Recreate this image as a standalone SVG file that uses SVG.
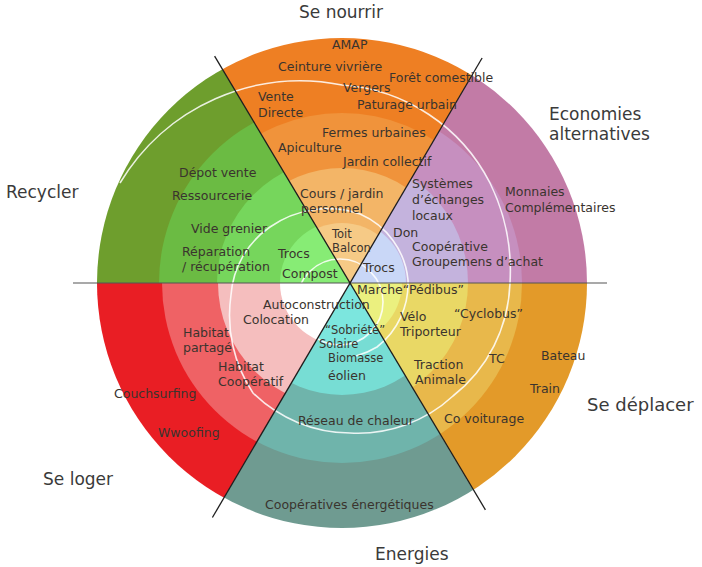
<svg xmlns="http://www.w3.org/2000/svg" width="702" height="567" viewBox="0 0 702 567">
<style>
.t{font-family:"DejaVu Sans","Liberation Sans",sans-serif;font-size:12.5px;fill:#3a342e}
.s{font-size:11.5px}
.h{font-family:"DejaVu Sans","Liberation Sans",sans-serif;font-size:17px;fill:#3a3a3a}
.arc{fill:none;stroke:#ffffff;stroke-width:1.6;stroke-opacity:0.85}
.div{stroke:#1e1e1e;stroke-width:1.3;fill:none}
.hz{stroke:#555555;stroke-width:1.2;fill:none}
</style>
<defs>
<clipPath id="cTop"><polygon points="350,283 144.8,-60.6 552.4,-61.8"/></clipPath>
<clipPath id="cUR"><polygon points="350,283 552.4,-61.8 750,-61.8 750,283"/></clipPath>
<clipPath id="cLR"><polygon points="350,283 750,283 750,626.6 554.2,626.6"/></clipPath>
<clipPath id="cBot"><polygon points="350,283 554.2,626.6 147.6,627.8"/></clipPath>
<clipPath id="cLL"><polygon points="350,283 147.6,627.8 -50,627.8 -50,283"/></clipPath>
<clipPath id="cUL"><polygon points="350,283 -50,283 -50,-60.6 144.8,-60.6"/></clipPath>
</defs>
<rect width="702" height="567" fill="#ffffff"/>
<g id="sectors">
<g id="se-nourrir" clip-path="url(#cTop)">
<circle cx="342" cy="283" r="245" fill="#ee7f23"/>
<circle cx="342" cy="283" r="170" fill="#f0933b"/>
<circle cx="342" cy="283" r="115" fill="#f3b567"/>
<circle cx="342" cy="283" r="60" fill="#f6ca86"/>
</g>
<g id="economies-alternatives" clip-path="url(#cUR)">
<circle cx="342" cy="283" r="245" fill="#c27ba6"/>
<circle cx="342" cy="283" r="180" fill="#c68fbf"/>
<circle cx="342" cy="283" r="126" fill="#c4b3dd"/>
<circle cx="342" cy="283" r="64" fill="#c9d7f7"/>
</g>
<g id="se-deplacer" clip-path="url(#cLR)">
<circle cx="342" cy="283" r="245" fill="#e39a29"/>
<circle cx="342" cy="283" r="180" fill="#e8b84b"/>
<circle cx="342" cy="283" r="126" fill="#e9d865"/>
<circle cx="342" cy="283" r="60" fill="#ebf07f"/>
</g>
<g id="energies" clip-path="url(#cBot)">
<circle cx="342" cy="283" r="245" fill="#6f9b91"/>
<circle cx="342" cy="283" r="180" fill="#6fb4ab"/>
<circle cx="342" cy="283" r="112" fill="#77ddd4"/>
<circle cx="342" cy="283" r="60" fill="#7ce6de"/>
</g>
<g id="se-loger" clip-path="url(#cLL)">
<circle cx="342" cy="283" r="245" fill="#e91e24"/>
<circle cx="342" cy="283" r="180" fill="#ef6265"/>
<circle cx="342" cy="283" r="124" fill="#f5bebe"/>
<circle cx="342" cy="283" r="62" fill="#ffffff"/>
</g>
<g id="recycler" clip-path="url(#cUL)">
<circle cx="342" cy="283" r="245" fill="#6e9e2d"/>
<circle cx="342" cy="283" r="183" fill="#6bbb43"/>
<circle cx="342" cy="283" r="125" fill="#76d65c"/>
<circle cx="342" cy="283" r="62" fill="#87ec75"/>
</g>
</g>
<g id="spiral">
<path class="arc" d="M120,183 A210,210 0 0,1 342,85 A180,180 0 0,1 490,183 A200,200 0 0,1 510,283 A150,150 0 0,1 453,396 A140,140 0 0,1 350,433 A140,140 0 0,1 253,393 A140,140 0 0,1 231,295 A90,90 0 0,1 270,227 A100,100 0 0,1 360,214 A80,80 0 0,1 408,280 A80,80 0 0,1 377,347 A80,80 0 0,1 356,356"/>
<circle class="arc" cx="340" cy="302" r="43"/>
</g>
<g id="connectors">
<line class="hz" x1="73" y1="283" x2="607" y2="283"/>
<line class="div" x1="214.6" y1="56.2" x2="485.4" y2="509.8"/>
<line class="div" x1="482.1" y1="58" x2="212.4" y2="517.5"/>
</g>
<g id="labels">
<g id="se-nourrir-labels">
<text class="h" x="299" y="18">Se nourrir</text>
<text class="t" x="332" y="49">AMAP</text>
<text class="t" x="278" y="71">Ceinture vivrière</text>
<text class="t" x="389" y="82">Forêt comestible</text>
<text class="t" x="343" y="92">Vergers</text>
<text class="t" x="357" y="109">Paturage urbain</text>
<text class="t" x="258" y="101">Vente</text>
<text class="t" x="258" y="117">Directe</text>
<text class="t" x="322" y="137">Fermes urbaines</text>
<text class="t" x="278" y="152">Apiculture</text>
<text class="t" x="343" y="166">Jardin collectif</text>
<text class="t" x="300" y="198">Cours / jardin</text>
<text class="t" x="301" y="213">personnel</text>
<text class="t s" x="332" y="238">Toit</text>
<text class="t s" x="332" y="252">Balcon</text>
</g>
<g id="economies-alternatives-labels">
<text class="h" x="549" y="120">Economies</text>
<text class="h" x="549" y="140">alternatives</text>
<text class="t" x="412" y="188">Systèmes</text>
<text class="t" x="412" y="204">d’échanges</text>
<text class="t" x="412" y="220">locaux</text>
<text class="t" x="393" y="237">Don</text>
<text class="t" x="412" y="251">Coopérative</text>
<text class="t" x="412" y="266">Groupemens d’achat</text>
<text class="t" x="363" y="272">Trocs</text>
<text class="t" x="505" y="196">Monnaies</text>
<text class="t" x="505" y="212">Complémentaires</text>
</g>
<g id="recycler-labels">
<text class="h" x="6" y="198">Recycler</text>
<text class="t" x="179" y="177">Dépot vente</text>
<text class="t" x="172" y="200">Ressourcerie</text>
<text class="t" x="191" y="233">Vide grenier</text>
<text class="t" x="182" y="256">Réparation</text>
<text class="t" x="182" y="271">/ récupération</text>
<text class="t" x="278" y="258">Trocs</text>
<text class="t" x="282" y="278">Compost</text>
</g>
<g id="se-loger-labels">
<text class="h" x="43" y="485">Se loger</text>
<text class="t" x="263" y="309">Autoconstruction</text>
<text class="t" x="243" y="324">Colocation</text>
<text class="t" x="183" y="337">Habitat</text>
<text class="t" x="183" y="352">partagé</text>
<text class="t" x="218" y="371">Habitat</text>
<text class="t" x="218" y="386">Coopératif</text>
<text class="t" x="114" y="398">Couchsurfing</text>
<text class="t" x="158" y="437">Wwoofing</text>
</g>
<g id="energies-labels">
<text class="h" x="375" y="560">Energies</text>
<text class="t s" x="325" y="334">“Sobriété”</text>
<text class="t s" x="319" y="348">Solaire</text>
<text class="t s" x="328" y="362">Biomasse</text>
<text class="t" x="328" y="380">éolien</text>
<text class="t" x="298" y="425">Réseau de chaleur</text>
<text class="t" x="265" y="509">Coopératives énergétiques</text>
</g>
<g id="se-deplacer-labels">
<text class="h" x="587" y="411" style="font-size:18px">Se déplacer</text>
<text class="t" x="357" y="294">Marche“Pédibus”</text>
<text class="t" x="400" y="321">Vélo</text>
<text class="t" x="400" y="336">Triporteur</text>
<text class="t" x="454" y="318">“Cyclobus”</text>
<text class="t" x="414" y="369">Traction</text>
<text class="t" x="415" y="384">Animale</text>
<text class="t" x="489" y="363">TC</text>
<text class="t" x="541" y="360">Bateau</text>
<text class="t" x="530" y="393">Train</text>
<text class="t" x="444" y="423">Co voiturage</text>
</g>
</g>
</svg>
